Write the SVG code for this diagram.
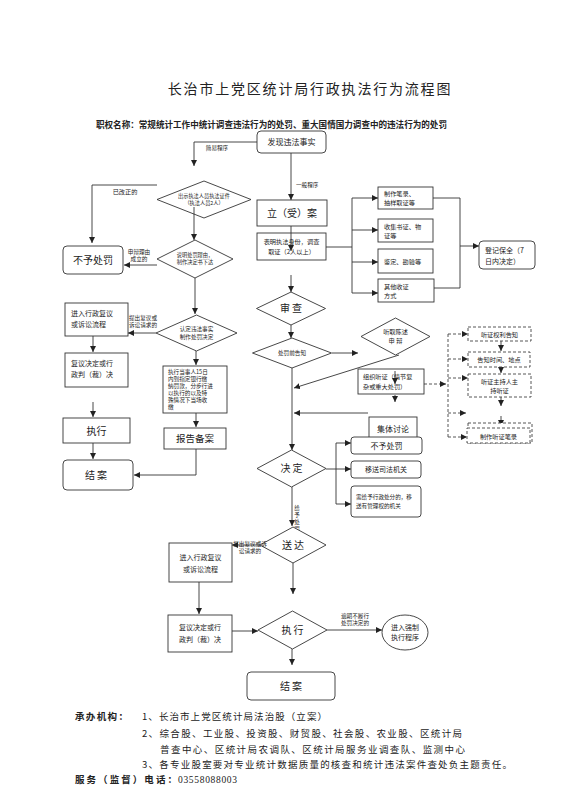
<svg xmlns="http://www.w3.org/2000/svg" width="581" height="800" viewBox="0 0 581 800">
<style>
text{font-family:"Noto Sans CJK SC","Liberation Serif",sans-serif;fill:#222}
.b{fill:#fff;stroke:#333;stroke-width:0.9}
.d{fill:#fff;stroke:#444;stroke-width:0.9;stroke-dasharray:3,2}
.l{fill:none;stroke:#333;stroke-width:0.9}
.ld{fill:none;stroke:#444;stroke-width:0.9;stroke-dasharray:3,2}
.c{text-anchor:middle}
.t5{font-size:5.2px}.t55{font-size:5.6px}.t6{font-size:6.2px}.t7{font-size:7px}.t8{font-size:8px}.t10{font-size:10px}
</style>
<defs>
<marker id="a" markerUnits="userSpaceOnUse" markerWidth="7" markerHeight="7" refX="6" refY="3" orient="auto"><path d="M0,0 L6,3 L0,6 z" fill="#222"/></marker>
</defs>
<rect width="581" height="800" fill="#fff"/>
<text x="310" y="94" class="c" style="font-size:14px;letter-spacing:1.8px">长治市上党区统计局行政执法行为流程图</text>
<text x="96" y="128" style="font-size:8.6px;font-weight:bold" textLength="351" lengthAdjust="spacingAndGlyphs">职权名称：常规统计工作中统计调查违法行为的处罚、重大国情国力调查中的违法行为的处罚</text>

<g id="connectors">
<path class="l" d="M257,142 H194 V166" marker-end="url(#a)"/>
<path class="l" d="M291,153 V200" marker-end="url(#a)"/>
<path class="l" d="M326,247 H352 M352,198 V293"/>
<path class="l" d="M352,198 H378" marker-end="url(#a)"/>
<path class="l" d="M352,230 H378" marker-end="url(#a)"/>
<path class="l" d="M352,262 H378" marker-end="url(#a)"/>
<path class="l" d="M352,293 H378" marker-end="url(#a)"/>
<path class="l" d="M433,198 H460 V288 H434"/>
<path class="l" d="M460,246 H479" marker-end="url(#a)"/>
<path class="l" d="M291,275 V292" marker-end="url(#a)"/>
<path class="l" d="M291,325 V338" marker-end="url(#a)"/>
<path class="l" d="M332,353 H358" marker-end="url(#a)"/>
<path class="l" d="M399,355 L294,388" marker-end="url(#a)"/>
<path class="l" d="M292,368 V450" marker-end="url(#a)"/>
<path class="l" d="M395,395 V402" marker-end="url(#a)"/>
<path class="ld" d="M424,384 H446" marker-end="url(#a)"/>
<path class="ld" d="M448,334 V437"/>
<path class="ld" d="M448,334 H468" marker-end="url(#a)"/>
<path class="ld" d="M448,359 H468" marker-end="url(#a)"/>
<path class="ld" d="M448,378 H468" marker-end="url(#a)"/>
<path class="ld" d="M448,413 H466" marker-end="url(#a)"/>
<path class="ld" d="M448,437 H467" marker-end="url(#a)"/>
<path class="l" d="M501,341 V351" marker-end="url(#a)"/>
<path class="l" d="M501,367 V373" marker-end="url(#a)"/>
<path class="l" d="M501,397 V406" marker-end="url(#a)"/>
<path class="l" d="M501,416 V426" marker-end="url(#a)"/>
<path class="l" d="M368,413 H294" marker-end="url(#a)"/>
<path class="l" d="M326,469 H336 M336,443 V504"/>
<path class="l" d="M336,443 H351" marker-end="url(#a)"/>
<path class="l" d="M336,469 H351" marker-end="url(#a)"/>
<path class="l" d="M336,504 H351" marker-end="url(#a)"/>
<path class="l" d="M292,487 V526" marker-end="url(#a)"/>
<path class="l" d="M260,545 H232" marker-end="url(#a)"/>
<path class="l" d="M199,582 V614" marker-end="url(#a)"/>
<path class="l" d="M293,563 V594" marker-end="url(#a)"/>
<path class="l" d="M232,631 H258" marker-end="url(#a)"/>
<path class="l" d="M327,630 H382" marker-end="url(#a)"/>
<path class="l" d="M292,649 V665" marker-end="url(#a)"/>
<path class="l" d="M157,185 H92 V243" marker-end="url(#a)"/>
<path class="l" d="M157,265 H124" marker-end="url(#a)"/>
<path class="l" d="M195,278 V314" marker-end="url(#a)"/>
<path class="l" d="M156,333 H128" marker-end="url(#a)"/>
<path class="l" d="M93,336 V352" marker-end="url(#a)"/>
<path class="l" d="M93,402 V417" marker-end="url(#a)"/>
<path class="l" d="M93,443 V459" marker-end="url(#a)"/>
<path class="l" d="M196,351 V365" marker-end="url(#a)"/>
<path class="l" d="M196,413 V427" marker-end="url(#a)"/>
<path class="l" d="M196,449 V475 H134" marker-end="url(#a)"/>
<text x="217" y="150" class="c t55">简易程序</text>
<text x="296" y="187" class="t55">一般程序</text>
<text x="125" y="194" class="c t6">已改正的</text>
<text x="139" y="254" class="c t55">申辩理由</text>
<text x="139" y="261" class="c t55">成立的</text>
<text x="143" y="320" class="c t55">提出复议或</text>
<text x="143" y="327" class="c t55">诉讼请求的</text>
<text x="297" y="510" class="c t55">给</text>
<text x="297" y="517" class="c t55">予</text>
<text x="297" y="524" class="c t55">处</text>
<text x="297" y="531" class="c t55">罚</text>
<text x="355" y="618" class="c t55">逾期不履行</text>
<text x="355" y="625" class="c t55">处罚决定的</text>
</g>

<g id="n_discover"><rect class="b" x="257" y="131" width="69" height="22" rx="4"/><text x="291.5" y="145" class="c t8">发现违法事实</text></g>
<g id="n_register"><rect class="b" x="257" y="200" width="70" height="26"/><text x="292" y="217" class="c t10">立（受）案</text></g>
<g id="n_identify"><rect class="b" x="257" y="233" width="69" height="27"/><text x="291.5" y="244" class="c t6">表明执法身份，调查</text><text x="291.5" y="254" class="c t6">取证（2人以上）</text></g>
<path class="l" d="M291,226 V251" marker-end="url(#a)"/>
<g id="n_r1"><rect class="b" x="378" y="187" width="55" height="22"/><text x="384" y="196" class="t6">制作笔录、</text><text x="384" y="205" class="t6">抽样取证等</text></g>
<g id="n_r2"><rect class="b" x="378" y="219" width="55" height="23"/><text x="384" y="229" class="t6">收集书证、物</text><text x="384" y="238" class="t6">证等</text></g>
<g id="n_r3"><rect class="b" x="378" y="249" width="55" height="24"/><text x="384" y="264" class="t6">鉴定、勘验等</text></g>
<g id="n_r4"><rect class="b" x="378" y="279" width="56" height="23"/><text x="384" y="289" class="t6">其他收证</text><text x="384" y="298" class="t6">方式</text></g>
<g id="n_preserve"><rect class="b" x="479" y="241" width="56" height="28" rx="4"/><text x="485" y="253" class="t7">登记保全（7</text><text x="485" y="264" class="t7">日内决定）</text></g>
<g id="n_review"><path class="b" d="M256.5,308.5 L291,292 L325.5,308.5 L291,325 z"/><text x="291" y="312" class="c t10">审 查</text></g>
<g id="n_notify"><path class="b" d="M252.5,353 L292,338 L331.5,353 L292,368 z"/><text x="292" y="355" class="c t55">处罚前告知</text></g>
<g id="n_hear"><path class="b" d="M361,336.5 L395.5,318 L430,336.5 L395.5,355 z"/><text x="395.5" y="334" class="c t6">听取陈述</text><text x="395.5" y="343" class="c t6">申 辩</text></g>
<g id="n_hearing"><rect class="b" x="358" y="369" width="66" height="25"/><text x="363" y="379" class="t6">组织听证（情节复</text><text x="363" y="389" class="t6">杂或重大处罚）</text></g>
<path class="l" d="M395,371 V384" marker-end="url(#a)"/>
<g id="n_d1"><rect class="d" x="468" y="327" width="63" height="14"/><text x="499.5" y="337" class="c t6">听证权利告知</text></g>
<g id="n_d2"><rect class="d" x="468" y="352" width="62" height="15"/><text x="499" y="362" class="c t6">告知时间、地点</text></g>
<g id="n_d3"><rect class="d" x="468" y="374" width="63" height="23"/><text x="499.5" y="384" class="c t6">听证主持人主</text><text x="499.5" y="393" class="c t6">持听证</text></g>
<g id="n_d4"><rect class="d" x="468" y="423" width="64" height="20"/><rect class="d" x="467" y="428" width="63" height="15"/><text x="498.5" y="439" class="c t6">制作听证笔录</text></g>
<g id="n_discuss"><rect class="b" x="369" y="417" width="48" height="24"/><text x="393" y="432" class="c t8">集体讨论</text></g>
<g id="n_nopunish2"><rect class="b" x="351" y="437" width="71" height="17" rx="3"/><text x="386.5" y="449" class="c t8">不予处罚</text></g>
<g id="n_decide"><path class="b" d="M257,468.5 L291.5,450 L326,468.5 L291.5,487 z"/><text x="291.5" y="472" class="c t10">决 定</text></g>
<g id="n_transfer"><rect class="b" x="351" y="461" width="70" height="17" rx="3"/><text x="386" y="472" class="c t7">移送司法机关</text></g>
<g id="n_admin"><rect class="b" x="351" y="486" width="70" height="31" rx="3"/><text x="356" y="499" class="t55">需给予行政处分的，移</text><text x="356" y="508" class="t55">送有管理权的机关</text></g>
<g id="n_deliver"><path class="b" d="M260,545 L293,527 L326,545 L293,563 z"/><text x="293" y="549" class="c t10">送 达</text></g>
<g id="n_appeal2"><rect class="b" x="169" y="543" width="63" height="39"/><text x="200.5" y="560" class="c t7">进入行政复议</text><text x="200.5" y="572" class="c t7">或诉讼流程</text></g>
<text x="250" y="546" class="c t55">提出复议或诉</text>
<text x="250" y="553" class="c t55">讼请求的</text>
<g id="n_ruling2"><rect class="b" x="168" y="615" width="64" height="37"/><text x="200" y="630" class="c t7">复议决定或行</text><text x="200" y="642" class="c t7">政判（裁）决</text></g>
<g id="n_execute2"><path class="b" d="M258,630 L292.5,611 L327,630 L292.5,649 z"/><text x="292.5" y="634" class="c t10">执 行</text></g>
<g id="n_force"><ellipse class="b" cx="405" cy="632.5" rx="23" ry="17.5"/><text x="405" y="630" class="c t7">进入强制</text><text x="405" y="640" class="c t7">执行程序</text></g>
<g id="n_close2"><rect class="b" x="247" y="672" width="88" height="28" rx="4"/><text x="291" y="690" class="c t10">结 案</text></g>

<g id="n_nopunish1"><rect class="b" x="63" y="246" width="60" height="28" rx="4"/><text x="93" y="264" class="c t10">不予处罚</text></g>
<g id="n_dia1"><path class="b" d="M157,199.5 L204,181 L251,199.5 L204,218 z"/><text x="204" y="198" class="c t5">出示执法人员执法证件</text><text x="204" y="205" class="c t5">（执法人员2人）</text></g>
<path class="l" d="M194,207 V240" marker-end="url(#a)"/>
<g id="n_dia2"><path class="b" d="M157,259 L195,240 L233,259 L195,278 z"/><text x="195" y="257" class="c t5">说明处罚理由，</text><text x="195" y="264" class="c t5">制作决定书下达</text></g>
<g id="n_dia3"><path class="b" d="M156,333 L196.5,315 L237,333 L196.5,351 z"/><text x="196.5" y="331" class="c t55">认定违法事实</text><text x="196.5" y="339" class="c t55">制作处罚决定</text></g>
<g id="n_appeal1"><rect class="b" x="65" y="303" width="63" height="33"/><text x="71" y="316" class="t7">进入行政复议</text><text x="71" y="327" class="t7">或诉讼流程</text></g>
<g id="n_ruling1"><rect class="b" x="65" y="353" width="63" height="34"/><text x="71" y="366" class="t7">复议决定或行</text><text x="71" y="377" class="t7">政判（裁）决</text></g>
<g id="n_execute1"><rect class="b" x="63" y="418" width="67" height="25"/><text x="96.5" y="435" class="c t10">执行</text></g>
<g id="n_close1"><rect class="b" x="63" y="460" width="70" height="30" rx="4"/><text x="96" y="479" class="c t10">结 案</text></g>
<g id="n_pay"><rect class="b" x="163" y="366" width="64" height="47"/>
<text x="168" y="374" class="t55">执行当事人15日</text>
<text x="168" y="381" class="t55">内到指定银行缴</text>
<text x="168" y="388" class="t55">纳罚款，分步行进</text>
<text x="168" y="395" class="t55">以执行的以及特</text>
<text x="168" y="402" class="t55">殊情况下当场收</text>
<text x="168" y="409" class="t55">缴</text></g>
<g id="n_report"><rect class="b" x="164" y="428" width="62" height="21"/><text x="195" y="442" class="c" style="font-size:9.5px">报告备案</text></g>

<g id="footer" style="font-size:9.5px">
<text x="75" y="720" style="font-weight:bold" textLength="53" lengthAdjust="spacing">承办机构：</text>
<text x="142" y="720" textLength="185" lengthAdjust="spacing">1、长治市上党区统计局法治股（立案）</text>
<text x="142" y="737" textLength="320" lengthAdjust="spacing">2、综合股、工业股、投资股、财贸股、社会股、农业股、区统计局</text>
<text x="160" y="753" textLength="305" lengthAdjust="spacing">普查中心、区统计局农调队、区统计局服务业调查队、监测中心</text>
<text x="142" y="768" textLength="370" lengthAdjust="spacing">3、各专业股室要对专业统计数据质量的核查和统计违法案件查处负主题责任。</text>
<text x="75" y="783" style="font-weight:bold" textLength="102" lengthAdjust="spacing">服务（监督）电话：</text>
<text x="178" y="783" style="font-family:'Liberation Serif',serif" textLength="59" lengthAdjust="spacing">03558088003</text>
</g>
</svg>
